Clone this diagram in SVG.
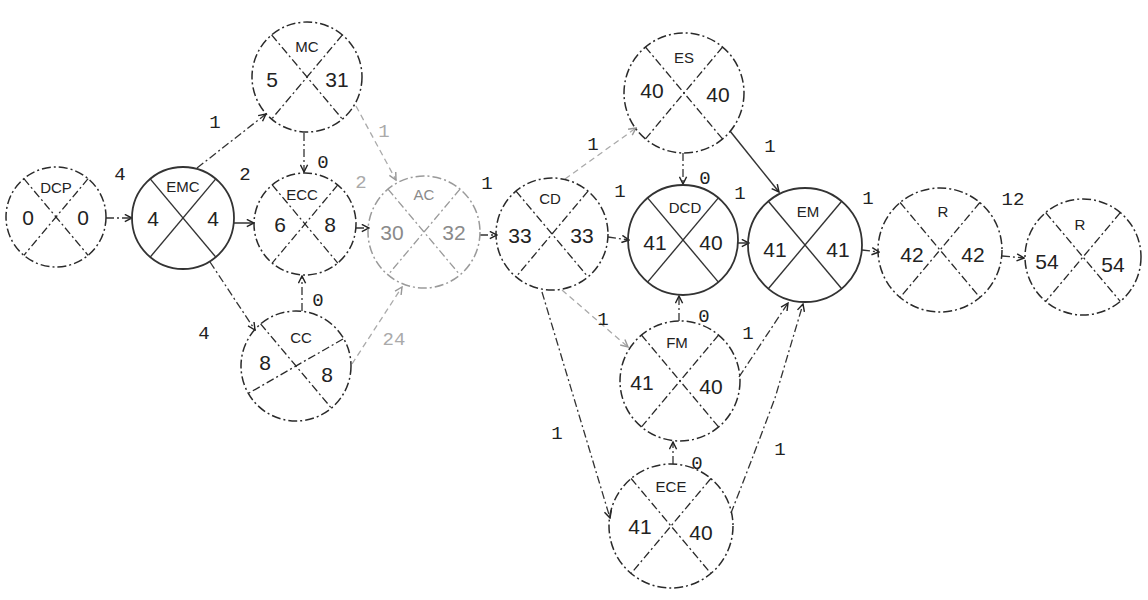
<svg xmlns="http://www.w3.org/2000/svg" width="1148" height="600" viewBox="0 0 1148 600">
<style>
.bg{fill:#ffffff}
.c{fill:none;stroke:#2a2a2a;stroke-width:1.5;stroke-dasharray:9 3 2 3}
.cs{fill:none;stroke:#333;stroke-width:1.8}
.x{stroke:#2a2a2a;stroke-width:1.3;stroke-dasharray:8 3 2 3}
.xs{stroke:#333;stroke-width:1.4}
.f .c,.f .x{stroke:#9a9a9a}
.f text{fill:#8a8a8a}
.nm{font-family:"Liberation Sans",Arial,sans-serif;font-size:15px;fill:#222;text-anchor:middle}
.nu{font-family:"Liberation Sans",Arial,sans-serif;font-size:21px;fill:#222;text-anchor:middle}
.e{fill:none;stroke:#333;stroke-width:1.3;stroke-dasharray:8 3 2 3;marker-end:url(#ah)}
.ef{fill:none;stroke:#aaa;stroke-width:1.3;stroke-dasharray:6 4;marker-end:url(#ahf)}
.es{fill:none;stroke:#333;stroke-width:1.5;marker-end:url(#ah)}
.lb{font-family:"Liberation Mono","Courier New",monospace;font-size:19px;fill:#222;text-anchor:middle}
.lbf{font-family:"Liberation Mono","Courier New",monospace;font-size:19px;fill:#aaa;text-anchor:middle}
</style>
<defs>
<marker id="ah" viewBox="0 0 10 10" refX="9" refY="5" markerWidth="9" markerHeight="9" orient="auto" markerUnits="userSpaceOnUse">
<path d="M1,1 L9,5 L1,9" fill="none" stroke="#222" stroke-width="1.6"/>
</marker>
<marker id="ahf" viewBox="0 0 10 10" refX="9" refY="5" markerWidth="9" markerHeight="9" orient="auto" markerUnits="userSpaceOnUse">
<path d="M1,1 L9,5 L1,9" fill="none" stroke="#999" stroke-width="1.6"/>
</marker>
</defs>
<rect class="bg" x="0" y="0" width="1148" height="600"/>

<g id="connectors">
<line class="e" x1="106" y1="218" x2="132" y2="218"/>
<line class="e" x1="197" y1="168" x2="266" y2="114"/>
<line class="es" x1="234" y1="223" x2="254" y2="223"/>
<line class="e" x1="210" y1="262" x2="255" y2="330"/>
<line class="e" x1="304" y1="133" x2="304" y2="172"/>
<line class="e" x1="302" y1="311" x2="302" y2="276"/>
<line class="e" x1="356" y1="228" x2="369" y2="228"/>
<line class="ef" x1="356" y1="106" x2="396" y2="180"/>
<line class="ef" x1="352" y1="364" x2="402" y2="287"/>
<line class="e" x1="480" y1="235" x2="497" y2="235"/>
<line class="ef" x1="565" y1="179" x2="636" y2="128"/>
<line class="e" x1="608" y1="237" x2="629" y2="240"/>
<line class="e" x1="683" y1="153" x2="683" y2="184"/>
<line class="es" x1="730" y1="131" x2="779" y2="192"/>
<line class="es" x1="738" y1="243" x2="749" y2="243"/>
<line class="ef" x1="562" y1="290" x2="628" y2="347"/>
<line class="e" x1="679" y1="321" x2="679" y2="296"/>
<line class="e" x1="739" y1="377" x2="788" y2="303"/>
<line class="e" x1="673" y1="464" x2="673" y2="442"/>
<path class="e" d="M731,513 Q748,470 775,398 L803,304"/>
<line class="e" x1="542" y1="292" x2="610" y2="518"/>
<line class="e" x1="862" y1="250" x2="879" y2="252"/>
<line class="e" x1="1002" y1="256" x2="1024" y2="258"/>

<text class="lb" x="120" y="180">4</text>
<text class="lb" x="215" y="128">1</text>
<text class="lb" x="245" y="180">2</text>
<text class="lb" x="204" y="339">4</text>
<text class="lb" x="323" y="168">0</text>
<text class="lb" x="318" y="306">0</text>
<text class="lbf" x="361" y="188">2</text>
<text class="lbf" x="384" y="137">1</text>
<text class="lbf" x="394" y="345">24</text>
<text class="lb" x="487" y="189">1</text>
<text class="lb" x="593" y="150">1</text>
<text class="lb" x="620" y="197">1</text>
<text class="lb" x="705" y="184">0</text>
<text class="lb" x="770" y="152">1</text>
<text class="lb" x="740" y="199">1</text>
<text class="lb" x="603" y="325">1</text>
<text class="lb" x="704" y="322">0</text>
<text class="lb" x="748" y="339">1</text>
<text class="lb" x="697" y="469">0</text>
<text class="lb" x="780" y="455">1</text>
<text class="lb" x="557" y="439">1</text>
<text class="lb" x="868" y="204">1</text>
<text class="lb" x="1013" y="205">12</text>
</g>

<g id="n-dcp" transform="translate(56,217)">
<circle class="c" r="50"/>
<line class="x" x1="-32.1" y1="-38.3" x2="32.1" y2="38.3"/>
<line class="x" x1="32.1" y1="-38.3" x2="-32.1" y2="38.3"/>
<text class="nm" x="0" y="-24">DCP</text>
<text class="nu" x="-28" y="8">0</text>
<text class="nu" x="27" y="8">0</text>
</g>

<g id="n-emc" transform="translate(183,218)">
<circle class="cs" r="51"/>
<line class="xs" x1="-32.8" y1="-39.1" x2="32.8" y2="39.1"/>
<line class="xs" x1="32.8" y1="-39.1" x2="-32.8" y2="39.1"/>
<text class="nm" x="0" y="-26">EMC</text>
<text class="nu" x="-30" y="8">4</text>
<text class="nu" x="30" y="8">4</text>
</g>

<g id="n-mc" transform="translate(307,77)">
<circle class="c" r="55"/>
<line class="x" x1="-35.4" y1="-42.1" x2="35.4" y2="42.1"/>
<line class="x" x1="35.4" y1="-42.1" x2="-35.4" y2="42.1"/>
<text class="nm" x="0" y="-25">MC</text>
<text class="nu" x="-35" y="10">5</text>
<text class="nu" x="30" y="10">31</text>
</g>

<g id="n-ecc" transform="translate(305,224)">
<circle class="c" r="51"/>
<line class="x" x1="-32.8" y1="-39.1" x2="32.8" y2="39.1"/>
<line class="x" x1="32.8" y1="-39.1" x2="-32.8" y2="39.1"/>
<text class="nm" x="-3" y="-24">ECC</text>
<text class="nu" x="-25" y="8">6</text>
<text class="nu" x="25" y="8">8</text>
</g>

<g id="n-cc" transform="translate(296,366)">
<circle class="c" r="55"/>
<line class="x" x1="-35.4" y1="-42.1" x2="35.4" y2="42.1"/>
<line class="x" x1="47" y1="-27" x2="-47" y2="27"/>
<text class="nm" x="5" y="-23">CC</text>
<text class="nu" x="-31" y="4">8</text>
<text class="nu" x="31" y="16">8</text>
</g>

<g id="n-ac" class="f" transform="translate(424,232)">
<circle class="c" r="56"/>
<line class="x" x1="-36" y1="-42.9" x2="36" y2="42.9"/>
<line class="x" x1="36" y1="-42.9" x2="-36" y2="42.9"/>
<text class="nm" x="0" y="-32">AC</text>
<text class="nu" x="-32" y="8">30</text>
<text class="nu" x="30" y="8">32</text>
</g>

<g id="n-cd" transform="translate(552,234)">
<circle class="c" r="56"/>
<line class="x" x1="-36" y1="-42.9" x2="36" y2="42.9"/>
<line class="x" x1="36" y1="-42.9" x2="-36" y2="42.9"/>
<text class="nm" x="-2" y="-30">CD</text>
<text class="nu" x="-32" y="9">33</text>
<text class="nu" x="30" y="9">33</text>
</g>

<g id="n-es" transform="translate(684,93)">
<circle class="c" r="60"/>
<line class="x" x1="-38.6" y1="-46" x2="38.6" y2="46"/>
<line class="x" x1="38.6" y1="-46" x2="-38.6" y2="46"/>
<text class="nm" x="0" y="-30">ES</text>
<text class="nu" x="-32" y="5">40</text>
<text class="nu" x="34" y="9">40</text>
</g>

<g id="n-dcd" transform="translate(683,240)">
<circle class="cs" r="55"/>
<line class="xs" x1="-35.4" y1="-42.1" x2="35.4" y2="42.1"/>
<line class="xs" x1="35.4" y1="-42.1" x2="-35.4" y2="42.1"/>
<text class="nm" x="2" y="-27">DCD</text>
<text class="nu" x="-28" y="10">41</text>
<text class="nu" x="28" y="10">40</text>
</g>

<g id="n-fm" transform="translate(680,381)">
<circle class="c" r="60"/>
<line class="x" x1="-38.6" y1="-46" x2="38.6" y2="46"/>
<line class="x" x1="38.6" y1="-46" x2="-38.6" y2="46"/>
<text class="nm" x="-3" y="-33">FM</text>
<text class="nu" x="-38" y="9">41</text>
<text class="nu" x="31" y="13">40</text>
</g>

<g id="n-ece" transform="translate(671,526)">
<circle class="c" r="62"/>
<line class="x" x1="-39.9" y1="-47.5" x2="39.9" y2="47.5"/>
<line class="x" x1="39.9" y1="-47.5" x2="-39.9" y2="47.5"/>
<text class="nm" x="0" y="-34">ECE</text>
<text class="nu" x="-31" y="8">41</text>
<text class="nu" x="30" y="14">40</text>
</g>

<g id="n-em" transform="translate(805,245)">
<circle class="cs" r="57"/>
<line class="xs" x1="-36.7" y1="-43.7" x2="36.7" y2="43.7"/>
<line class="xs" x1="36.7" y1="-43.7" x2="-36.7" y2="43.7"/>
<text class="nm" x="3" y="-28">EM</text>
<text class="nu" x="-30" y="12">41</text>
<text class="nu" x="33" y="12">41</text>
</g>

<g id="n-r1" transform="translate(940,250)">
<circle class="c" r="62"/>
<line class="x" x1="-39.9" y1="-47.5" x2="39.9" y2="47.5"/>
<line class="x" x1="39.9" y1="-47.5" x2="-39.9" y2="47.5"/>
<text class="nm" x="3" y="-33">R</text>
<text class="nu" x="-28" y="12">42</text>
<text class="nu" x="33" y="12">42</text>
</g>

<g id="n-r2" transform="translate(1083,257)">
<circle class="c" r="58"/>
<line class="x" x1="-37.3" y1="-44.4" x2="37.3" y2="44.4"/>
<line class="x" x1="37.3" y1="-44.4" x2="-37.3" y2="44.4"/>
<text class="nm" x="-3" y="-27">R</text>
<text class="nu" x="-36" y="12">54</text>
<text class="nu" x="30" y="15">54</text>
</g>
</svg>
